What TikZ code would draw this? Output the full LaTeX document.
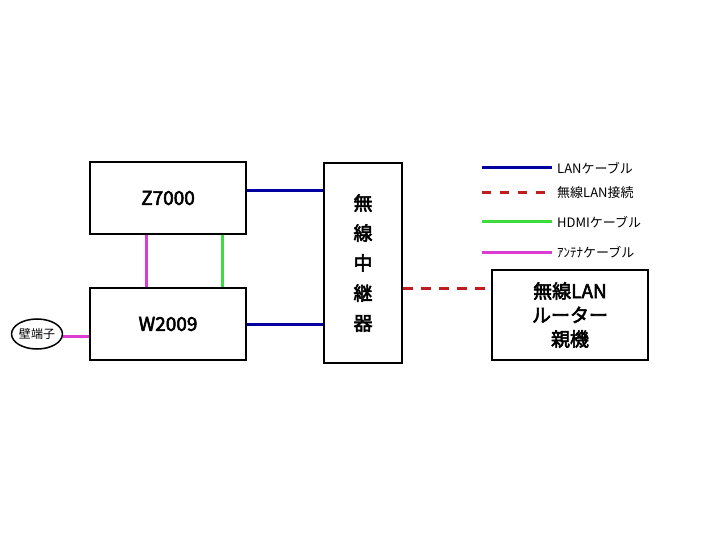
\documentclass[tikz,border=0pt]{standalone}
\usepackage{fontspec}
\usetikzlibrary{shapes.geometric}
\setmainfont{Noto Sans CJK JP}[AutoFakeBold=3]
\begin{document}
\begin{tikzpicture}[x=1pt,y=-1pt,
 box/.style={draw,line width=2pt,inner sep=0pt,font=\bfseries\fontsize{19}{23}\selectfont,align=center},
 lan/.style={line width=3pt,color={rgb,255:red,0;green,0;blue,160}},
 wl/.style={line width=3pt,color={rgb,255:red,190;green,30;blue,30},dash pattern=on 10pt off 8pt},
 hdmi/.style={line width=3pt,color={rgb,255:red,60;green,220;blue,60}},
 ant/.style={line width=3pt,color={rgb,255:red,220;green,60;blue,210}},
 leg/.style={anchor=west,inner sep=0pt,font=\fontsize{13}{15}\selectfont}]
\useasboundingbox (0,0) rectangle (720,540);
\node[box,minimum width=156pt,minimum height=72pt] (z) at (168,198) {Z7000};
\node[box,minimum width=156pt,minimum height=72pt] (w) at (168,324) {W2009};
\node[box,minimum width=78pt,minimum height=200pt,font=\bfseries\fontsize{19}{30}\selectfont] (r) at (363,263) {無\\線\\中\\継\\器};
\node[box,minimum width=156pt,minimum height=90pt,font=\bfseries\fontsize{19}{24}\selectfont] (p) at (570,315) {無線LAN\\ルーター\\親機};
\node[draw,line width=1.5pt,ellipse,minimum width=50pt,minimum height=30pt,inner sep=0pt,font=\fontsize{12}{13}\selectfont] (k) at (37,334) {壁端子};
\draw[lan] (z.east|-0,191) -- (r.west|-0,191);
\draw[lan] (w.east|-0,324) -- (r.west|-0,324);
\draw[ant] (146,0|-z.south) -- (146,0|-w.north);
\draw[hdmi] (222,0|-z.south) -- (222,0|-w.north);
\draw[wl] (r.east|-0,288) -- (p.west|-0,288);
\draw[ant] (k.east|-0,336) -- (w.west|-0,336);
\coordinate (l1) at (482,168); \coordinate (l1e) at (552,168);
\coordinate (l2) at (482,193); \coordinate (l2e) at (552,193);
\coordinate (l3) at (482,222); \coordinate (l3e) at (552,222);
\coordinate (l4) at (482,252); \coordinate (l4e) at (552,252);
\draw[lan] (l1) -- (l1e); \node[leg] (t1) at (557,168) {LANケーブル};
\draw[wl,dash pattern=on 9pt off 9pt] (l2) -- (l2e); \node[leg] (t2) at (557,193) {無線LAN接続};
\draw[hdmi] (l3) -- (l3e); \node[leg] (t3) at (557,222) {HDMIケーブル};
\draw[ant] (l4) -- (l4e); \node[leg] (t4) at (557,252) {ｱﾝﾃﾅケーブル};
\end{tikzpicture}
\end{document}
